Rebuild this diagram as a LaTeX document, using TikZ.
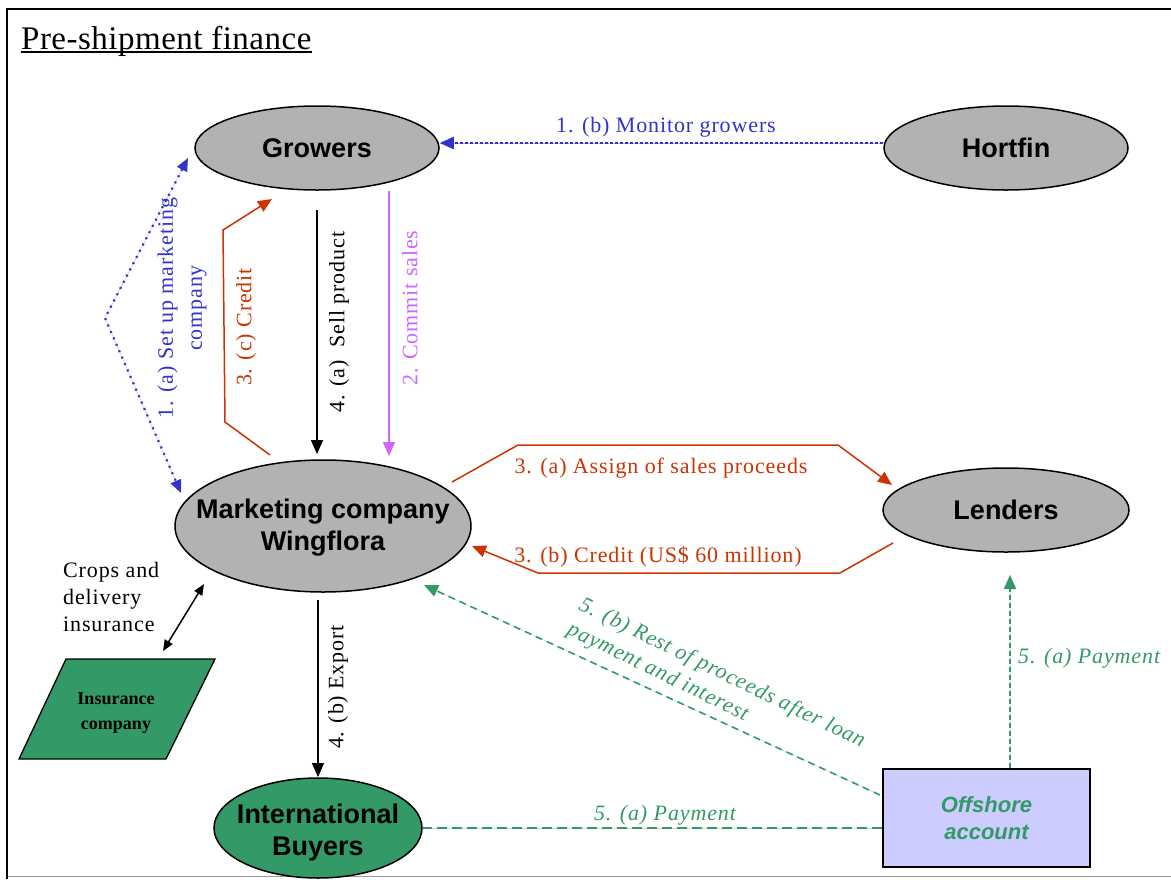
\documentclass[tikz,border=0pt]{standalone}
\usepackage{fontspec}
\setmainfont{Liberation Serif}
\newfontfamily\lab{Liberation Serif}[LetterSpace=4]
\newfontfamily\ttl{Liberation Serif}[LetterSpace=1.5]
\newfontfamily\hd{Liberation Sans}
\usetikzlibrary{arrows.meta,shapes.geometric}
\definecolor{nodegray}{HTML}{B2B2B2}
\definecolor{bl}{HTML}{3333CC}
\definecolor{rd}{HTML}{CC3300}
\definecolor{vi}{HTML}{CC66FF}
\definecolor{gn}{HTML}{339966}
\definecolor{lav}{HTML}{CCCCFF}
\begin{document}
\begin{tikzpicture}[x=1pt,y=-1pt,
  ell/.style={ellipse, draw=black, line width=1.5pt, fill=nodegray, inner sep=0pt},
  ntext/.style={font=\hd\bfseries\fontsize{27}{32}\selectfont, align=center, inner sep=0pt},
  lbl/.style={font=\lab\fontsize{22}{29}\selectfont, inner sep=0pt},
  glbl/.style={font=\lab\itshape\fontsize{22}{27}\selectfont, text=gn, inner sep=0pt},
  tipend/.style={-{Triangle[length=14pt,width=12pt]}},
  bluedot/.style={draw=bl, line width=2.6pt, dash pattern=on 3pt off 2pt,
     preaction={draw=bl!35, line width=0.5pt, solid, -}},
  bluesparse/.style={draw=bl, line width=2.2pt, dash pattern=on 2pt off 5pt,
     preaction={draw=bl!30, line width=0.5pt, solid, -}},
  greendash/.style={draw=gn, line width=1.6pt, dash pattern=on 7pt off 5pt,
     preaction={draw=gn!30, line width=0.5pt, solid, -}},
  solidarrow/.style={line width=1.5pt, tipend}
]
\useasboundingbox (0,0) rectangle (1171,879);
% frame
\draw[line width=2pt] (7,879) -- (7,9) -- (1171,9);
\draw[black!40, line width=1.5pt] (8,876.5) -- (1171,876.5);

% title
\node[font=\ttl\fontsize{33}{33}\selectfont, anchor=base west, inner sep=0pt] (title) at (21,49) {Pre-shipment finance};
\draw[line width=1.2pt] ([yshift=-3pt]title.base west) -- ([yshift=-3pt]title.base east);

% nodes
\node[ell, minimum width=244pt, minimum height=84pt] (gr) at (317,148) {};
\node[ntext] at (gr.center) {Growers};
\node[ell, minimum width=244pt, minimum height=84pt] (ho) at (1006,148) {};
\node[ntext] at (ho.center) {Hortfin};
\node[ell, minimum width=296pt, minimum height=132pt] (mk) at (323,526) {};
\node[ntext] at ([yshift=-2pt]mk.center) {Marketing company\\Wingflora};
\node[ell, minimum width=246pt, minimum height=84pt] (le) at (1006,510) {};
\node[ntext] at (le.center) {Lenders};
\node[ell, fill=gn, minimum width=208pt, minimum height=100pt] (ib) at (318,828) {};
\node[ntext] at ([yshift=-5pt]ib.center) {International\\Buyers};

% insurance company
\draw[fill=gn, line width=1.3pt] (66,659) -- (215,659) -- (166,759) -- (19,759) -- cycle;
\node[font=\bfseries\fontsize{18}{25}\selectfont, align=center, inner sep=0pt] (ins) at (116,713) {Insurance\\company};
\coordinate (insTop) at (163,651);
\coordinate (mkLow) at (204,584);

% offshore account
\node[draw, line width=1.5pt, fill=lav, minimum width=207pt, minimum height=98pt, inner sep=0pt] (off) at (986.5,818) {};
\node[font=\hd\bfseries\itshape\fontsize{22}{27}\selectfont, text=gn, align=center, inner sep=0pt] at (off.center) {Offshore\\account};

% 1 (b) monitor growers
\draw[bluedot, tipend] ([yshift=5pt]ho.west) -- ([yshift=5pt]gr.east);
\node[lbl, text=bl, anchor=base] at (666,132) {1. (b) Monitor growers};

% 1 (a) set up marketing company
\coordinate (su1) at (188,158);
\coordinate (su2) at (181,493);
\draw[bluesparse, {Triangle[length=13pt,width=11pt]}-{Triangle[length=13pt,width=11pt]}] (su1) -- (105,318) -- (su2);
\node[lbl, text=bl, rotate=90, align=center] at (182,308) {1. (a) Set up marketing\\company};

% 3 (c) credit
\coordinate (cr1) at (270,455);
\coordinate (cr2) at (272,199);
\draw[rd, solidarrow] (cr1) -- (225,422) -- (223,230) -- (cr2);
\node[lbl, text=rd, rotate=90] at (246,327) {3. (c) Credit};

% 4 (a) sell product
\draw[black, solidarrow] (317,210) -- (317,454);
\node[lbl, rotate=90] at (339,322) {4. (a)~ Sell product};

% 2 commit sales
\draw[vi, solidarrow] (389,191) -- (389,456);
\node[lbl, text=vi, rotate=90] at (410,308) {2. Commit sales};

% 3 (a) assign
\coordinate (as1) at (452,482);
\coordinate (as2) at (892,485);
\draw[rd, solidarrow] (as1) -- (518,445) -- (838,445) -- (as2);
\node[lbl, text=rd, anchor=base] at (661,473) {3. (a) Assign of sales proceeds};

% 3 (b) credit
\coordinate (cb1) at (893,543);
\coordinate (cb2) at (472,546);
\draw[rd, solidarrow] (cb1) -- (840,573) -- (538,573) -- (cb2);
\node[lbl, text=rd, anchor=base] at (658,562) {3. (b) Credit (US\$ 60 million)};

% 4 (b) export
\draw[black, solidarrow] (318,600) -- (318,777);
\node[lbl, rotate=90] at (338,687) {4. (b) Export};

% insurance arrow
\draw[line width=1.5pt, {Triangle[length=11pt,width=9pt]}-{Triangle[length=11pt,width=9pt]}] (insTop) -- (mkLow);
\node[lbl, align=left, anchor=north west, font=\lab\fontsize{22}{27}\selectfont] at (63,562) {Crops and\\delivery\\insurance};

% 5 (b)
\coordinate (rb1) at (880,795);
\coordinate (rb2) at (424,585);
\draw[greendash, tipend] (rb1) -- (rb2);
\node[glbl, rotate=-26, align=left] at (716,686) {5. (b) Rest of proceeds after loan\\payment and interest};

% 5 (a) horizontal
\draw[draw=gn, line width=1.2pt, dash pattern=on 10pt off 5pt, preaction={draw=gn!30, line width=0.5pt, solid}] (off.west |- ib.east) -- (ib.east);
\node[glbl, anchor=base] at (665,820) {5. (a) Payment};

% 5 (a) vertical
\draw[greendash, line width=2pt, dash pattern=on 5pt off 3pt, tipend] ([xshift=23.5pt]off.north) -- (1010,575);
\node[glbl, anchor=base west] at (1018,663) {5. (a) Payment};
\end{tikzpicture}
\end{document}
